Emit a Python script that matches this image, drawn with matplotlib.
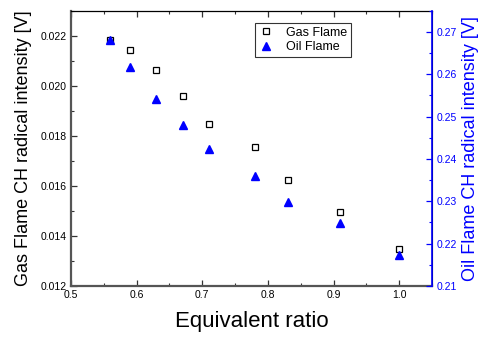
import matplotlib
matplotlib.use("Agg")
import matplotlib.pyplot as plt
from matplotlib.ticker import MultipleLocator

plt.rcParams['font.family'] = ['Liberation Sans', 'DejaVu Sans']

# datos
ratio = [0.56, 0.59, 0.63, 0.67, 0.71, 0.78, 0.83, 0.91, 1.0]
gas = [0.02182, 0.02145, 0.02065, 0.01958, 0.01847, 0.01754, 0.01624, 0.01496, 0.01349]
oil = [0.2682, 0.2618, 0.2541, 0.2481, 0.2424, 0.2360, 0.2299, 0.2248, 0.2174]

fig = plt.figure(figsize=(4.86, 3.38), dpi=100)
ax = fig.add_axes([0.146, 0.154, 0.743, 0.814])
ax2 = ax.twinx()

l1, = ax.plot(ratio, gas, linestyle="none", marker="s", markersize=4,
              markerfacecolor="white", markeredgecolor="black", markeredgewidth=0.9,
              label="Gas Flame")
l2, = ax2.plot(ratio, oil, linestyle="none", marker="^", markersize=5.5,
               color="blue", label="Oil Flame")

ax.set_xlim(0.5, 1.05)
ax.set_ylim(0.012, 0.023)
ax2.set_ylim(0.21, 0.275)

ax.xaxis.set_major_locator(MultipleLocator(0.1))
ax.xaxis.set_minor_locator(MultipleLocator(0.05))
ax.yaxis.set_major_locator(MultipleLocator(0.002))
ax.yaxis.set_minor_locator(MultipleLocator(0.001))
ax2.yaxis.set_major_locator(MultipleLocator(0.01))
ax2.yaxis.set_minor_locator(MultipleLocator(0.005))
ax.xaxis.set_major_formatter(plt.FormatStrFormatter("%.1f"))
ax.yaxis.set_major_formatter(plt.FormatStrFormatter("%.3f"))
ax2.yaxis.set_major_formatter(plt.FormatStrFormatter("%.2f"))

ax.tick_params(axis="x", which="both", direction="in", top=True, labelsize=7.5, pad=3, color="#333333")
ax.tick_params(axis="y", which="both", direction="in", labelsize=7.5, pad=3, color="#333333")
ax.tick_params(which="major", length=4, width=0.9)
ax.tick_params(which="minor", length=2.5, width=0.8)
ax2.tick_params(axis="y", which="both", direction="in", labelsize=7.5, pad=3,
                colors="blue")
ax2.tick_params(which="major", length=4, width=0.9)
ax2.tick_params(which="minor", length=2.5, width=0.8)

ax.spines["left"].set_color("#555555")
ax.spines["left"].set_linewidth(1.6)
ax.spines["bottom"].set_color("#555555")
ax.spines["bottom"].set_linewidth(1.6)
ax.spines["top"].set_linewidth(0.9)
ax2.spines["right"].set_color("blue")
ax2.spines["right"].set_linewidth(1.2)
ax2.spines["left"].set_visible(False)
ax2.spines["bottom"].set_visible(False)
ax2.spines["top"].set_visible(False)

ax.set_xlabel("Equivalent ratio", fontsize=16, labelpad=8)
ax.set_ylabel("Gas Flame CH radical intensity [V]", fontsize=13, labelpad=6)
ax2.set_ylabel("Oil Flame CH radical intensity [V]", fontsize=13, color="blue", labelpad=4)

leg = ax.legend([l1, l2], ["Gas Flame", "Oil Flame"], loc="upper left",
                bbox_to_anchor=(0.51, 0.956), fontsize=9, frameon=True,
                fancybox=False, edgecolor="black", handlelength=1.2,
                handletextpad=1.0, borderpad=0.3, labelspacing=0.2,
                borderaxespad=0)
leg.get_frame().set_linewidth(0.8)

fig.savefig("out.png", dpi=100)
